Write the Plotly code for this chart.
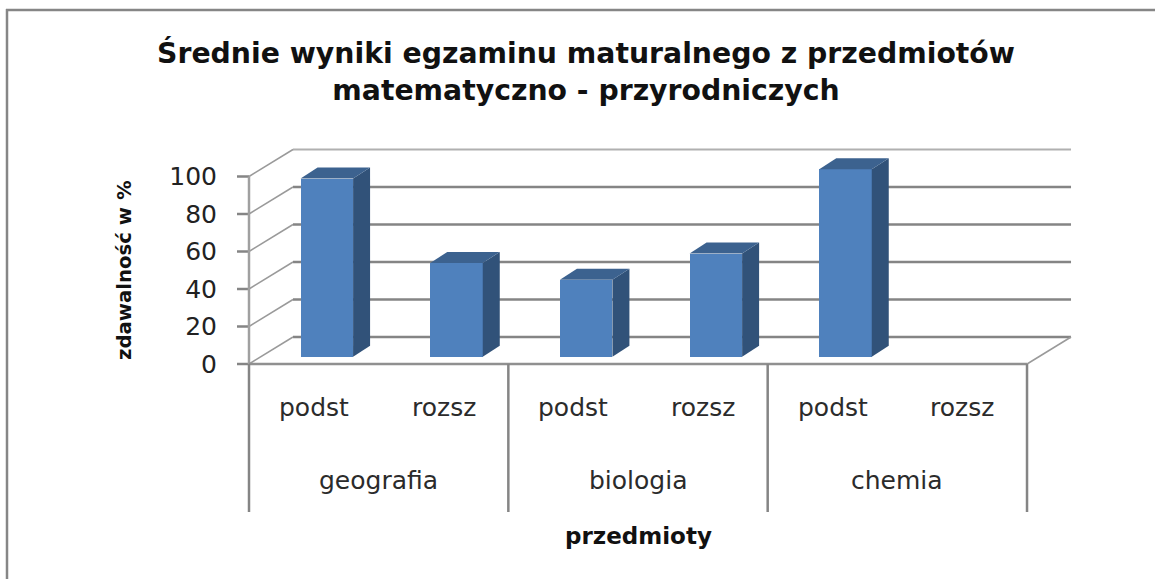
import plotly.graph_objects as go

TITLE = "Średnie wyniki egzaminu maturalnego z przedmiotów<br>matematyczno - przyrodniczych"
SUBJECTS = ["geografia", "biologia", "chemia"]
LEVELS = ["podst", "rozsz", "podst", "rozsz", "podst", "rozsz"]
VALUES = [95, 50, 41, 55, 100, 0]
Y_TICKS = [0, 20, 40, 60, 80, 100]
X_TITLE = "przedmioty"
Y_TITLE = "zdawalność w %"

W, H = 1155, 579
AX_PX = 249            # pixel of category position 0
X0_PX, X1_PX = 235, 1073
Y0_PX, YBOT_PX, YTOP_PX = 364, 512, 147
PX_PER_CAT = 129.67
PX_PER_VAL = 1.875
xr = ((X0_PX - AX_PX) / PX_PER_CAT, (X1_PX - AX_PX) / PX_PER_CAT)
yr = ((Y0_PX - YBOT_PX) / PX_PER_VAL, (Y0_PX - YTOP_PX) / PX_PER_VAL)
dxpx = lambda p: p / PX_PER_CAT
dypx = lambda p: p / PX_PER_VAL
WALL_X, WALL_Y = dxpx(44), dypx(27)
BAR_W = dxpx(52.5)
BAR_X, BAR_BASE = dxpx(13), dypx(7.3)
DEPTH_X, DEPTH_Y = dxpx(17), dypx(11)
N = len(VALUES)
GRID, GRID2 = "#858585", "#9a9a9a"
centers = [i + 0.5 + BAR_X for i in range(N)]

fig = go.Figure()
fig.add_trace(go.Bar(x=centers, y=VALUES, base=[BAR_BASE] * N, width=BAR_W,
                     marker=dict(color="#4F81BD", line=dict(width=0)), showlegend=False))

for c, v in zip(centers, VALUES):
    if not v:
        continue
    l, r, b, t = c - BAR_W / 2, c + BAR_W / 2, BAR_BASE, BAR_BASE + v
    fig.add_trace(go.Scatter(x=[r, r + DEPTH_X, r + DEPTH_X, r, r],
                             y=[b, b + DEPTH_Y, t + DEPTH_Y, t, b],
                             fill="toself", fillcolor="#315279", mode="none", showlegend=False))
    fig.add_trace(go.Scatter(x=[l, l + DEPTH_X, r + DEPTH_X, r, l],
                             y=[t, t + DEPTH_Y, t + DEPTH_Y, t, t],
                             fill="toself", fillcolor="#3C628F", mode="none", showlegend=False))

shapes = []
def seg(x0, y0, x1, y1, color=GRID, width=2, layer="below"):
    shapes.append(dict(type="line", xref="x", yref="y", x0=x0, y0=y0, x1=x1, y1=y1,
                       line=dict(color=color, width=width), layer=layer))

for v in Y_TICKS:
    seg(WALL_X, v + WALL_Y, N + WALL_X, v + WALL_Y, "#b0b0b0" if v == 100 else GRID, 2.5 if v != 100 else 2)
    seg(0, v, WALL_X, v + WALL_Y, GRID2, 1.5)
    seg(dxpx(-12), v, 0, v, GRID, 2.5)
seg(0, 0, 0, Y_TICKS[-1], "#a0a0a0", 2.5)
seg(0, 0, N, 0, "#909090", 2.5)
seg(N, 0, N + WALL_X, WALL_Y, GRID2, 1.5)
for i in range(0, N + 1, 2):
    seg(i, yr[0], i, 0, GRID, 2.5)

# chart frame
px = lambda p: (p - X0_PX) / (X1_PX - X0_PX)
py = lambda p: (YBOT_PX - p) / (YBOT_PX - YTOP_PX)
shapes.append(dict(type="line", xref="paper", yref="paper", x0=px(6), x1=px(W), y0=py(10), y1=py(10),
                   line=dict(color="#868686", width=2.5)))
shapes.append(dict(type="line", xref="paper", yref="paper", x0=px(7), x1=px(7), y0=py(9), y1=py(H),
                   line=dict(color="#868686", width=2.5)))

TEXT = "#2b2b2b"
annotations = []
for i, lab in enumerate(LEVELS):
    annotations.append(dict(x=i + 0.5, y=(Y0_PX - 407) / PX_PER_VAL, xref="x", yref="y", text=lab,
                            xanchor="center", yanchor="middle",
                            showarrow=False, font=dict(family="DejaVu Sans", size=25, color=TEXT)))
for i, lab in enumerate(SUBJECTS):
    annotations.append(dict(x=2 * i + 1, y=(Y0_PX - 480) / PX_PER_VAL, xref="x", yref="y", text=lab,
                            xanchor="center", yanchor="middle",
                            showarrow=False, font=dict(family="DejaVu Sans", size=25, color=TEXT)))
annotations.append(dict(x=px(638), y=py(536), xref="paper", yref="paper", text=X_TITLE, showarrow=False,
                        xanchor="center", yanchor="middle",
                        font=dict(family="DejaVu Sans", size=23, weight="bold", color="#111")))
annotations.append(dict(x=px(124), y=py(270), xref="paper", yref="paper", text=Y_TITLE, showarrow=False,
                        xanchor="center", yanchor="middle",
                        textangle=-90, font=dict(family="DejaVu Sans", size=19.7, weight="bold", color="#111")))

fig.update_layout(
    width=W, height=H, showlegend=False, bargap=0,
    paper_bgcolor="white", plot_bgcolor="white",
    margin=dict(l=X0_PX, r=W - X1_PX, t=YTOP_PX, b=H - YBOT_PX, pad=0),
    title=dict(text=TITLE, x=586 / W, xanchor="center", xref="container", y=1 - 63 / H, yanchor="middle",
               font=dict(family="DejaVu Sans", size=28.3, weight="bold", color="#111")),
    xaxis=dict(range=xr, showgrid=False, zeroline=False, showticklabels=False, showline=False, ticks=""),
    yaxis=dict(range=yr, tickmode="array", tickvals=Y_TICKS, showgrid=False, zeroline=False, showline=False,
               ticks="", ticklabelstandoff=17,
               tickfont=dict(family="DejaVu Sans", size=25, color="#222")),
    shapes=shapes, annotations=annotations,
)
fig.write_html("out.html", config=dict(displayModeBar=False), post_script="document.body.style.margin='0';")
